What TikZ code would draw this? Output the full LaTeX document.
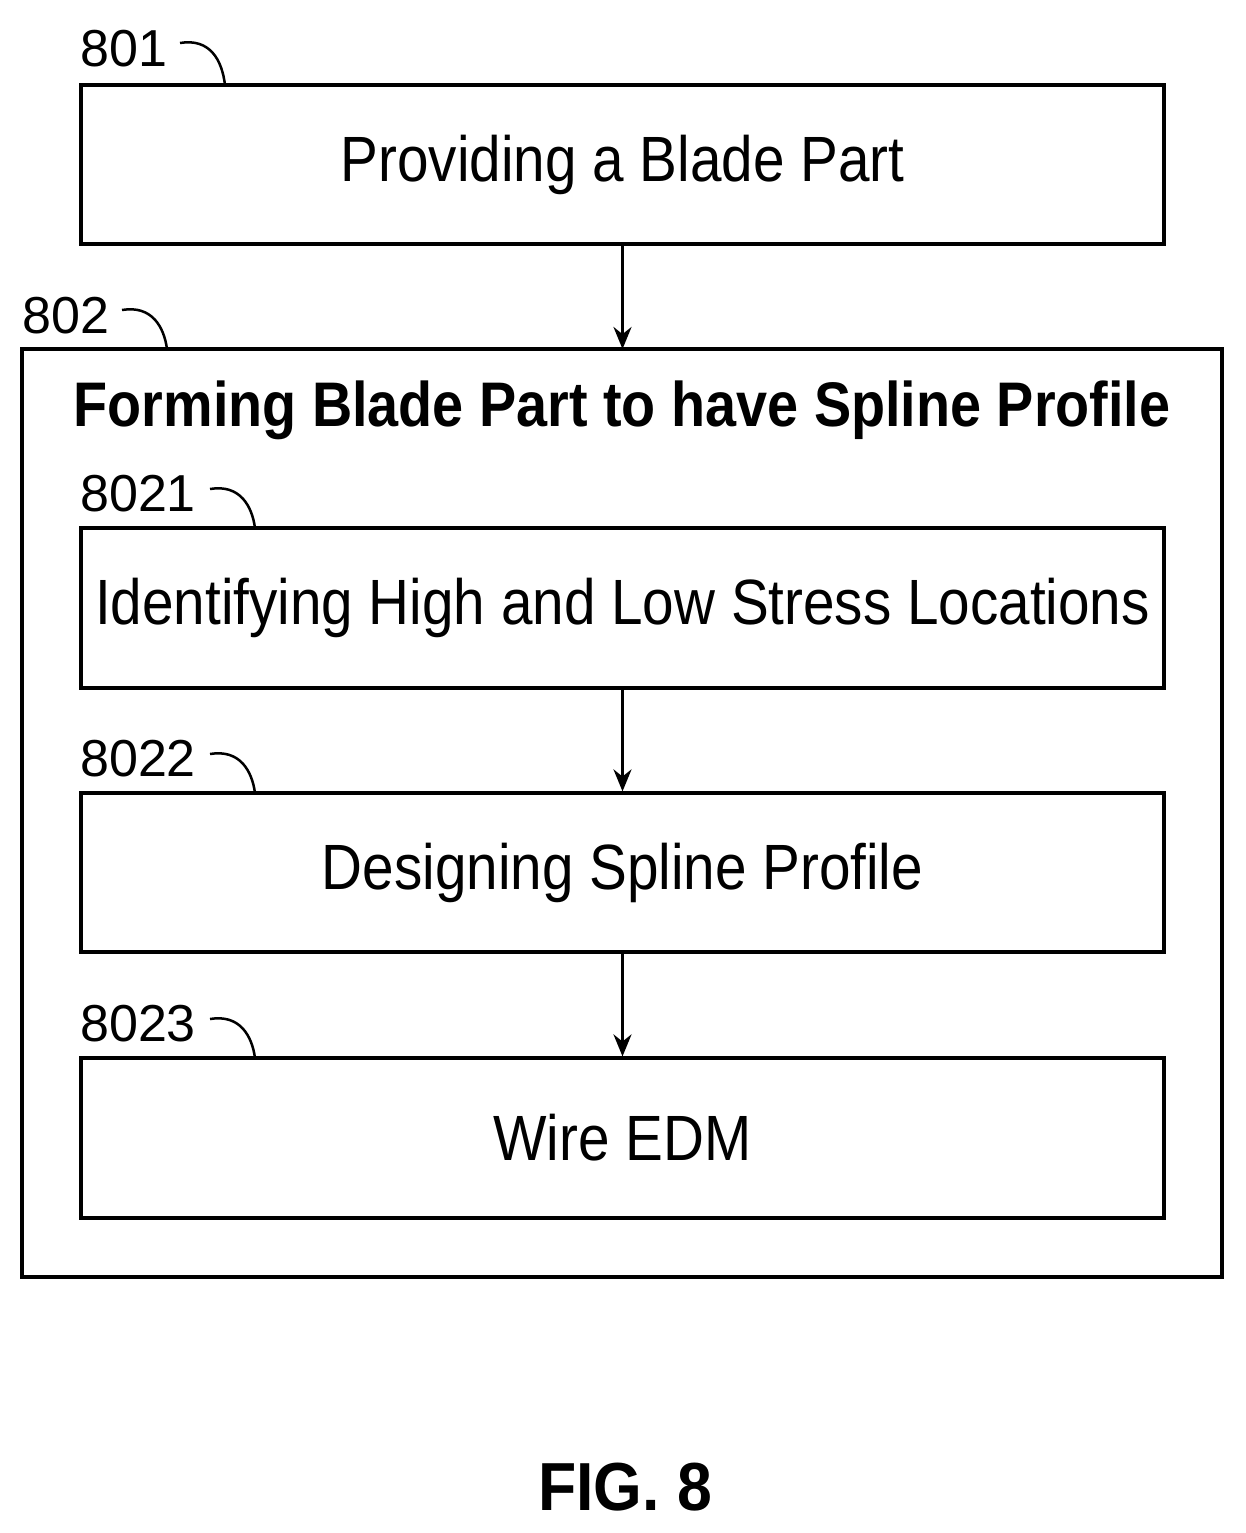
\documentclass[tikz,border=0pt]{standalone}
\usepackage{fontspec}
\setmainfont{Liberation Sans}[FakeStretch=0.885]
\newfontfamily\labfont{Liberation Sans}[FakeStretch=1.0]
\newfontfamily\figfont{Liberation Sans}[FakeStretch=0.92]
\usetikzlibrary{arrows.meta}
\begin{document}
\begin{tikzpicture}[x=1pt,y=-1pt,
 box/.style={draw,line width=3.2pt,inner sep=0},
 txt/.style={font=\fontsize{64}{70}\selectfont},
 lab/.style={font=\labfont\fontsize{52}{56}\selectfont,anchor=base west,inner sep=0},
 lead/.style={line width=2.5pt},
 arr/.style={line width=3pt,-{Stealth[length=22pt,width=18pt]}}]
\useasboundingbox (0,0) rectangle (1246,1533);
\draw[box] (22,349) rectangle (1222,1277);
\node[box,minimum width=1083pt,minimum height=159pt] (b1) at (622.5,164.5) {};
\node[txt] at (b1) {Providing a Blade Part};
\node[box,minimum width=1083pt,minimum height=160pt] (b2) at (622.5,608) {};
\node[txt] at (b2) {Identifying High and Low Stress Locations};
\node[box,minimum width=1083pt,minimum height=159pt] (b3) at (622.5,872.5) {};
\node[txt] at (b3) {Designing Spline Profile};
\node[box,minimum width=1083pt,minimum height=160pt] (b4) at (622.5,1138) {};
\node[txt] at (b4) {Wire EDM};
\coordinate (top) at (622.5,349);
\node[font=\bfseries\fontsize{63}{68}\selectfont] (title) at (622,410) {Forming Blade Part to have Spline Profile};
\draw[arr] (b1.south) -- (top);
\draw[arr] (b2.south) -- (b3.north);
\draw[arr] (b3.south) -- (b4.north);
\node[lab] (l1) at (80,67) {801};
\node[lab] (l2) at (22,333) {802};
\node[lab] (l3) at (80,511) {8021};
\node[lab] (l4) at (80,776) {8022};
\node[lab] (l5) at (80,1041) {8023};
\draw[lead] (180,43) .. controls (210,38) and (222,60) .. (225,85);
\draw[lead] (122,310) .. controls (152,305) and (164,327) .. (167,349);
\draw[lead] (210,489) .. controls (240,484) and (252,506) .. (255,528);
\draw[lead] (210,754) .. controls (240,749) and (252,771) .. (255,793);
\draw[lead] (210,1019) .. controls (240,1014) and (252,1036) .. (255,1058);
\node[font=\figfont\bfseries\fontsize{68}{72}\selectfont] (fig) at (625,1487) {FIG. 8};
\end{tikzpicture}
\end{document}
